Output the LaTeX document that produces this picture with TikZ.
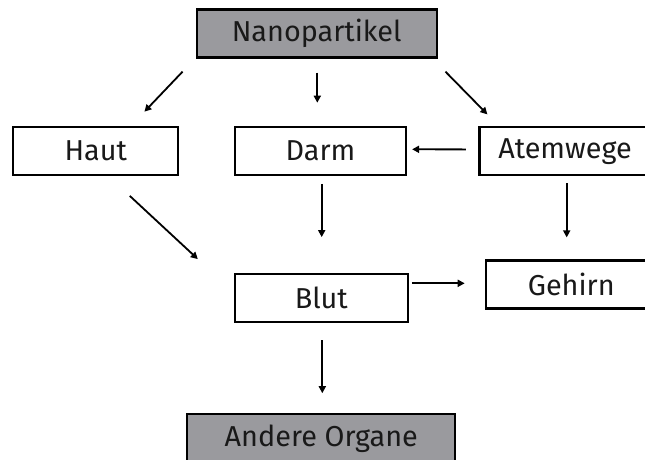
\documentclass[tikz,border=0pt]{standalone}
\usepackage{fontspec}
\setmainfont{Fira Sans}
\usepackage{tikz}
\usetikzlibrary{arrows.meta}
\usetikzlibrary{positioning}
\usetikzlibrary{calc}

\definecolor{boxgray}{RGB}{154,154,158}
\definecolor{textdark}{RGB}{25,25,25}

\tikzset{
	organ/.style={rectangle, draw=black, line width=2.2pt, minimum width=171pt, minimum height=48pt, inner sep=0pt, text=textdark, font=\fontsize{28.8}{34}\selectfont},
	grau/.style={organ, fill=boxgray},
	pfeil/.style={line width=1.8pt, -{Triangle[length=7pt,width=7pt]}}
}

\begin{document}
\begin{tikzpicture}[x=1pt, y=-1pt]
	\useasboundingbox (0,0) rectangle (645,459);
	\clip (0,0) rectangle (645,459);

	\draw (316.7, 33.5) node[grau, minimum width=240pt] (np) {Nanopartikel};

	\draw (95.8, 150.8) node[organ, minimum width=165pt] (haut) {Haut};
	\draw (320.5, 150.8) node[organ] (darm) {Darm};
	\draw (565, 151.2) node[organ] (atem) {Atemwege};

	\draw (321.3, 298.2) node[organ, minimum width=172.7pt] (blut) {Blut};
	\draw (571.3, 284.5) node[organ] (gehirn) {Gehirn};

	\draw (321.3, 438.3) node[grau, minimum width=268pt] (andere) {Andere Organe};

	% Aufnahme
	\draw[pfeil] ($(np.south west)+(-13,13)$) -- ($(haut.north east)+(-35,-14)$);
	\draw[pfeil] ($(np.south)+(0.6,14)$) -- ($(np.south |- darm.north)+(0.6,-23)$);
	\draw[pfeil] ($(np.south east)+(7.6,13)$) -- ($(atem.north west)+(9,-11.7)$);
	\draw[pfeil] ($(atem.west)+(-12.6,-1.8)$) -- ($(darm.east)+(5,-1.5)$);

	% Verteilung
	\draw[pfeil] ($(haut.south)+(34,20)$) -- ($(blut.north west)+(-36,-14)$);
	\draw[pfeil] ($(darm.south)+(1.2,8)$) -- ($(darm.south |- blut.north)+(1.2,-36)$);
	\draw[pfeil] ($(atem.south)+(1.7,7)$) -- ($(atem.south |- gehirn.north)+(1.7,-22)$);
	\draw[pfeil] ($(blut.east |- gehirn.west)+(3,-1.2)$) -- ($(gehirn.west)+(-20,-1.2)$);
	\draw[pfeil] ($(blut.south)+(1,17)$) -- ($(blut.south |- andere.north)+(1,-20)$);

\end{tikzpicture}
\end{document}
